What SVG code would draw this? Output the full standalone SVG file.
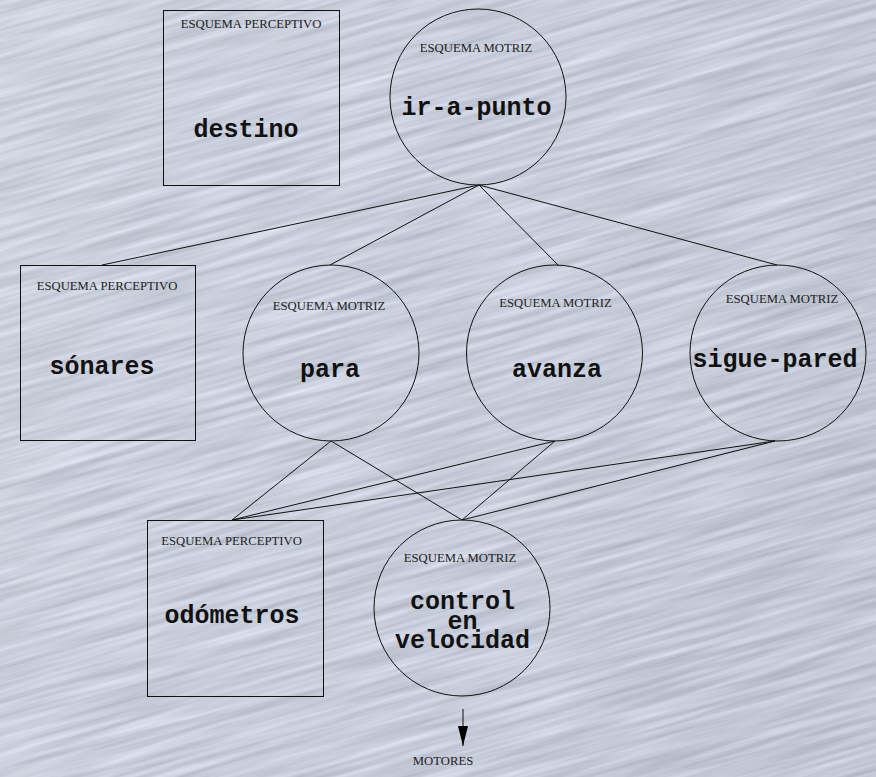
<svg xmlns="http://www.w3.org/2000/svg" width="876" height="777" viewBox="0 0 876 777">
<defs>
<filter id="brushed" filterUnits="userSpaceOnUse" x="-300" y="-300" width="1500" height="1400" color-interpolation-filters="sRGB">
<feTurbulence type="fractalNoise" baseFrequency="0.008 0.18" numOctaves="3" seed="7" result="n"/>
<feColorMatrix in="n" type="matrix" values="0.24 0 0 0 0.665  0.24 0 0 0 0.685  0.24 0 0 0 0.74  0 0 0 0 1"/>
</filter>
<linearGradient id="shade" x1="0" y1="0" x2="1" y2="0.3">
<stop offset="0" stop-color="#ffffff" stop-opacity="0.1"/>
<stop offset="0.5" stop-color="#ffffff" stop-opacity="0"/>
<stop offset="1" stop-color="#000000" stop-opacity="0.03"/>
</linearGradient>
<marker id="arr" markerWidth="20" markerHeight="10" refX="20" refY="5" orient="auto" markerUnits="userSpaceOnUse" viewBox="0 0 20 10">
<path d="M0,0 L20,5 L0,10 Z" fill="#000"/>
</marker>
<style>
.shape{fill:none;stroke:#111;stroke-width:1}
.lbl{font-family:"Liberation Serif","Times New Roman",serif;font-size:12.7px;fill:#222;text-anchor:middle}
.name{font-family:"Liberation Mono","Courier New",monospace;font-size:25px;font-weight:bold;fill:#111;text-anchor:middle}
.conn line{stroke:#111;stroke-width:1}
</style>
</defs>
<rect width="876" height="777" fill="#c8ccda"/>
<rect x="-300" y="-300" width="1500" height="1400" filter="url(#brushed)" transform="rotate(-16 438 388)"/>
<rect width="876" height="777" fill="url(#shade)"/>

<g id="connectors" class="conn">
<line x1="479" y1="185" x2="102" y2="265"/>
<line x1="479" y1="185" x2="330" y2="265"/>
<line x1="479" y1="185" x2="558" y2="265"/>
<line x1="479" y1="185" x2="777" y2="265"/>
<line x1="331" y1="441" x2="232" y2="520"/>
<line x1="331" y1="441" x2="462" y2="520"/>
<line x1="555" y1="441" x2="232" y2="520"/>
<line x1="555" y1="441" x2="462" y2="520"/>
<line x1="775" y1="441" x2="232" y2="520"/>
<line x1="775" y1="441" x2="462" y2="520"/>
<line x1="463" y1="709" x2="463" y2="746" marker-end="url(#arr)"/>
</g>

<g id="destino">
<rect class="shape" x="163.5" y="10.5" width="176" height="175"/>
<text class="lbl" x="251" y="28">ESQUEMA PERCEPTIVO</text>
<text class="name" x="246" y="137">destino</text>
</g>

<g id="ir-a-punto">
<circle class="shape" cx="478" cy="97" r="88"/>
<text class="lbl" x="476" y="52">ESQUEMA MOTRIZ</text>
<text class="name" x="476.5" y="115">ir-a-punto</text>
</g>

<g id="sonares">
<rect class="shape" x="20.5" y="265.5" width="175" height="175"/>
<text class="lbl" x="107" y="290">ESQUEMA PERCEPTIVO</text>
<text class="name" x="102" y="374">sónares</text>
</g>

<g id="para">
<circle class="shape" cx="331" cy="353" r="88"/>
<text class="lbl" x="329" y="310">ESQUEMA MOTRIZ</text>
<text class="name" x="330" y="377">para</text>
</g>

<g id="avanza">
<circle class="shape" cx="554.5" cy="353" r="88"/>
<text class="lbl" x="555.5" y="307">ESQUEMA MOTRIZ</text>
<text class="name" x="557" y="377">avanza</text>
</g>

<g id="sigue-pared">
<circle class="shape" cx="778" cy="353" r="88"/>
<text class="lbl" x="782" y="303">ESQUEMA MOTRIZ</text>
<text class="name" x="775" y="367">sigue-pared</text>
</g>

<g id="odometros">
<rect class="shape" x="147.5" y="520.5" width="176" height="176"/>
<text class="lbl" x="231.5" y="545">ESQUEMA PERCEPTIVO</text>
<text class="name" x="232" y="623">odómetros</text>
</g>

<g id="control-en-velocidad">
<circle class="shape" cx="462" cy="608" r="88"/>
<text class="lbl" x="460" y="562">ESQUEMA MOTRIZ</text>
<text class="name" x="462.5" y="609">control</text>
<text class="name" x="462.5" y="629">en</text>
<text class="name" x="462.5" y="648">velocidad</text>
</g>

<g id="motores">
<text class="lbl" x="443" y="765">MOTORES</text>
</g>
</svg>
